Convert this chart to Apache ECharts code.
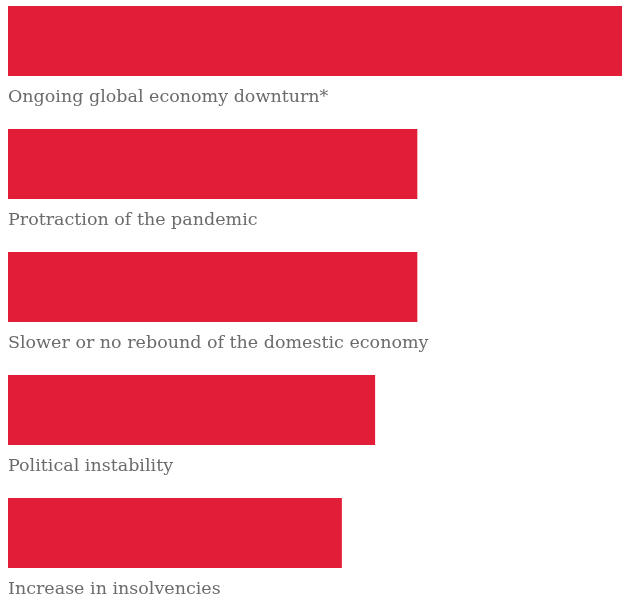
<!DOCTYPE html>
<html>
<head>
<meta charset="utf-8">
<script src="https://cdn.jsdelivr.net/npm/echarts@6/dist/echarts.min.js"></script>
<style>
  html, body { margin: 0; padding: 0; background: #fff; }
  #chart { width: 622px; height: 600px; }
</style>
</head>
<body>
<div id="chart"></div>
<script>
// categories top to bottom
var categories = [
  'Ongoing global economy downturn*',
  'Protraction of the pandemic',
  'Slower or no rebound of the domestic economy',
  'Political instability',
  'Increase in insolvencies'
];
// bar values (share of respondents)
var values = [48, 32, 32, 28.7, 26.1];

var chart = echarts.init(document.getElementById('chart'));

chart.setOption({
  animation: false,
  grid: { left: 8, right: 0, top: 41, bottom: 67, containLabel: false },
  xAxis: {
    type: 'value',
    min: 0,
    max: 48,
    show: false
  },
  yAxis: {
    type: 'category',
    inverse: true,
    boundaryGap: false,
    data: categories,
    show: false
  },
  series: [{
    type: 'bar',
    data: values,
    barWidth: 70,
    itemStyle: { color: '#e21d38' },
    label: {
      show: true,
      formatter: '{b}',
      position: [0, 81],
      align: 'left',
      verticalAlign: 'top',
      color: '#6b6b6b',
      fontFamily: 'DejaVu Serif',
      fontSize: 17.5,
      lineHeight: 20
    }
  }]
});
</script>
</body>
</html>
